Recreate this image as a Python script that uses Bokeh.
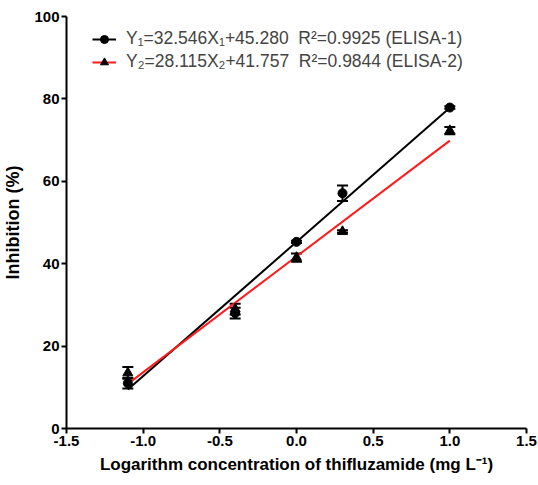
from bokeh.plotting import figure
from bokeh.models import ColumnDataSource, Whisker, TeeHead, Legend, LegendItem, FixedTicker
from bokeh.embed import file_html
from bokeh.resources import INLINE

# data
log_conc = [-1.1, -0.4, 0.0, 0.3, 1.0]
elisa1_mean = [11.0, 28.0, 45.3, 57.1, 77.9]
elisa1_sd = [1.3, 1.3, 0.3, 1.9, 0.3]
elisa2_mean = [13.5, 29.0, 41.5, 47.8, 72.3]
elisa2_sd = [1.4, 1.3, 1.0, 0.3, 0.9]
fit_x = [-1.1, 1.0]
slope1, intercept1 = 32.546, 45.280
slope2, intercept2 = 28.115, 41.757
label1 = "Y\u2081=32.546X\u2081+45.280  R\u00b2=0.9925 (ELISA-1)"
label2 = "Y\u2082=28.115X\u2082+41.757  R\u00b2=0.9844 (ELISA-2)"
x_ticks = [-1.5, -1.0, -0.5, 0.0, 0.5, 1.0, 1.5]
y_ticks = [0, 20, 40, 60, 80, 100]

FONT = "Liberation Sans"
FW, FH = 460, 412

p = figure(width=538, height=485, frame_width=FW, frame_height=FH,
           x_range=(-1.5, 1.5), y_range=(0, 100),
           output_backend="svg", toolbar_location=None,
           min_border_left=62, min_border_top=16, min_border_right=16, min_border_bottom=57)
p.outline_line_color = None
p.grid.visible = False
p.background_fill_color = "white"
p.border_fill_color = "white"

for ax in (p.xaxis[0], p.yaxis[0]):
    ax.axis_line_width = 2
    ax.axis_line_color = "black"
    ax.major_tick_line_width = 2
    ax.major_tick_in = 0
    ax.major_tick_out = 5
    ax.minor_tick_line_color = None
    ax.major_label_text_font = FONT
    ax.major_label_text_font_style = "bold"
    ax.major_label_text_font_size = "15px"
    ax.major_label_text_color = "black"
    ax.axis_label_text_font = FONT
    ax.axis_label_text_font_style = "bold"
    ax.axis_label_text_font_size = "17px"
    ax.axis_label_text_color = "black"

p.xaxis.ticker = FixedTicker(ticks=x_ticks)
p.yaxis.ticker = FixedTicker(ticks=y_ticks)
p.xaxis.major_label_overrides = {t: f"{t:.1f}" for t in x_ticks}
p.xaxis.axis_label = "Logarithm concentration of thifluzamide (mg L\u207b\u00b9)"
p.yaxis.axis_label = "Inhibition (%)"
p.yaxis.axis_label_text_font_size = "18px"
p.xaxis.major_label_standoff = 2
p.yaxis.major_label_standoff = 2
p.xaxis.axis_label_standoff = 6
p.yaxis.axis_label_standoff = 8

fit1_y = [slope1 * x + intercept1 for x in fit_x]
fit2_y = [slope2 * x + intercept2 for x in fit_x]

l1 = p.line(fit_x, fit1_y, line_color="black", line_width=2)
l2 = p.line(fit_x, fit2_y, line_color="#ff1a1a", line_width=2)

s1 = ColumnDataSource(dict(x=log_conc, y=elisa1_mean,
                           lo=[m - s for m, s in zip(elisa1_mean, elisa1_sd)],
                           hi=[m + s for m, s in zip(elisa1_mean, elisa1_sd)]))
s2 = ColumnDataSource(dict(x=log_conc, y=elisa2_mean,
                           lo=[m - s for m, s in zip(elisa2_mean, elisa2_sd)],
                           hi=[m + s for m, s in zip(elisa2_mean, elisa2_sd)]))

for src in (s1, s2):
    w = Whisker(source=src, base="x", lower="lo", upper="hi", line_width=2, line_color="black",
                upper_head=TeeHead(size=11, line_width=2, line_color="black"),
                lower_head=TeeHead(size=11, line_width=2, line_color="black"))
    p.add_layout(w)

c1 = p.scatter("x", "y", source=s1, marker="circle", size=9, color="black")
c2 = p.scatter("x", "y", source=s2, marker="triangle", size=10, color="black")

legend = Legend(items=[LegendItem(label=label1, renderers=[l1, c1]),
                       LegendItem(label=label2, renderers=[l2, c2])],
                margin=0, padding=0,
                glyph_width=24, glyph_height=20, label_height=20, spacing=2,
                label_standoff=10,
                label_text_font=FONT, label_text_font_size="17.5px",
                border_line_color=None, background_fill_alpha=0)
p.add_layout(legend)
legend.location = (26, FH - 14 - 42)

open("out.html", "w").write(file_html(p, INLINE))
